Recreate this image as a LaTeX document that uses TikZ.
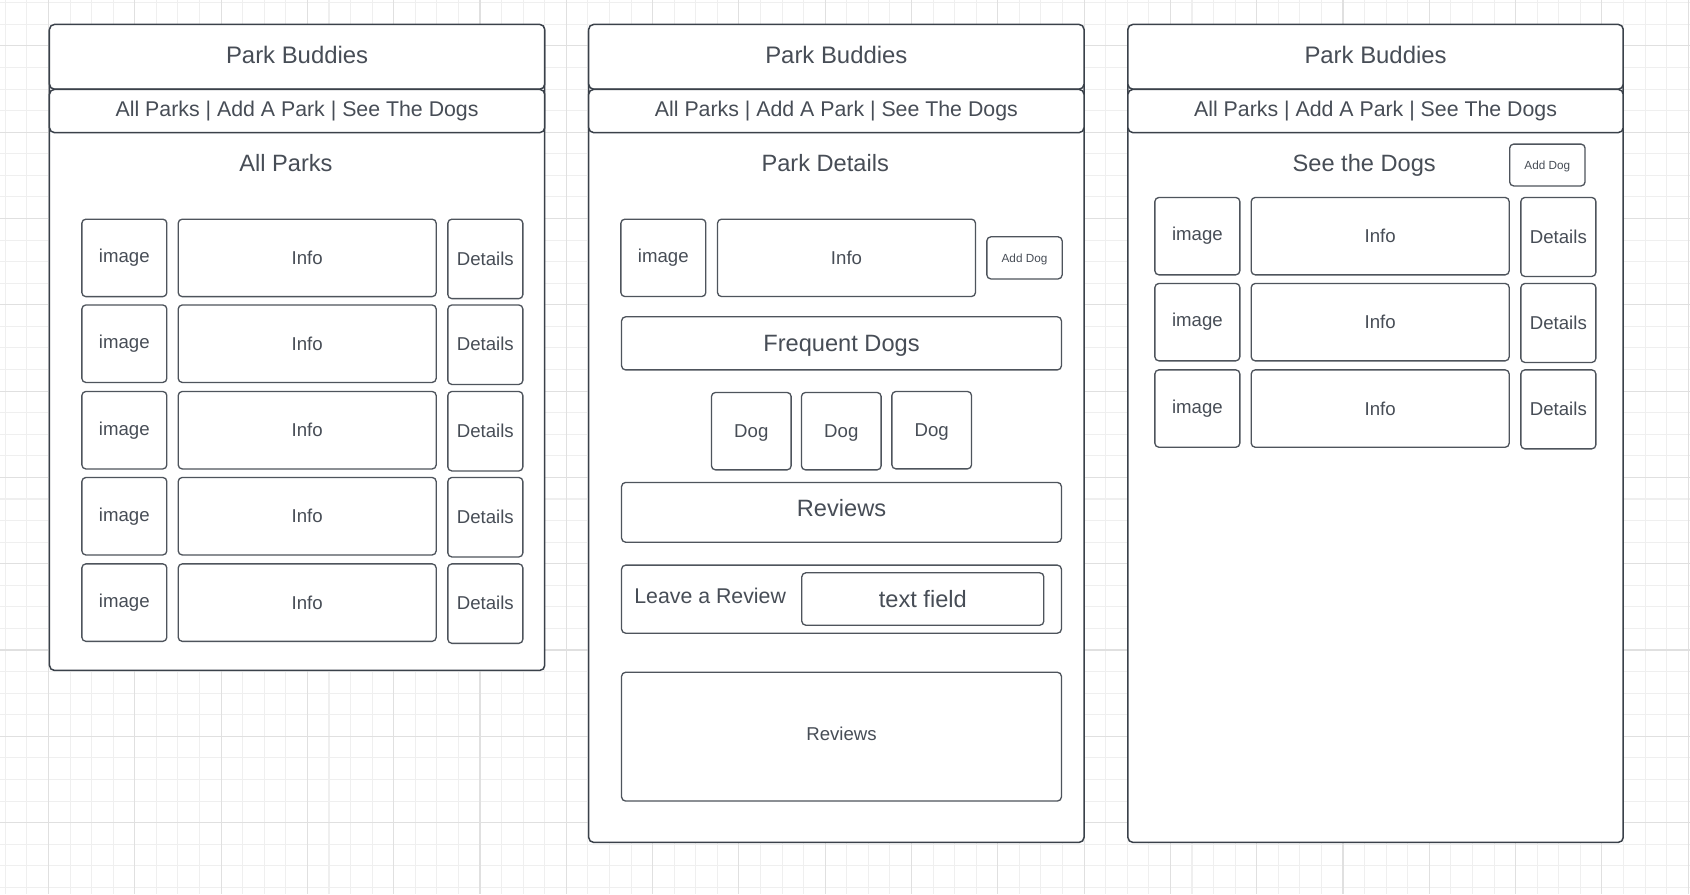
\documentclass[tikz,border=0pt]{standalone}
\usepackage{fontspec}
\setmainfont{Liberation Sans}
\definecolor{ink}{HTML}{3A414A}
\definecolor{boxink}{HTML}{4E545C}
\definecolor{txt}{HTML}{474D56}
\definecolor{gmin}{HTML}{EFEFEF}
\definecolor{gmaj}{HTML}{E0E0E0}
\tikzset{
  gridminor/.style={draw=gmin, line width=0.6pt},
  gridmajor/.style={draw=gmaj, line width=0.6pt},
  ubox/.style={draw=boxink, fill=white, line width=0.75pt, rounded corners=2.3pt,
    inner sep=0pt, text=txt, font=\fontsize{10.6}{12}\selectfont},
  framebox/.style={ubox, draw=ink, line width=0.85pt, rounded corners=2.8pt},
  bigtxt/.style={font=\fontsize{13.44}{15}\selectfont},
  headtxt/.style={font=\fontsize{13.6}{15}\selectfont},
  navtxt/.style={font=\fontsize{12.13}{14}\selectfont},
  tinytxt/.style={font=\fontsize{6.69}{8}\selectfont},
  lbl/.style={inner sep=0pt, text=txt},
}
% \ub[style]{name}{x1}{y1}{x2}{y2}{text}
\newcommand\ub[7][]{\node[ubox,#1,minimum width={(#5-#3)*0.5669pt},minimum height={(#6-#4)*0.5669pt}] (#2) at ({(#3+#5)/2},{(#4+#6)/2}) {#7};}
\begin{document}
\begin{tikzpicture}[x=0.02cm,y=-0.02cm]
\useasboundingbox (0,0) rectangle (1690,894);
\fill[white] (0,0) rectangle (1690,894);
% grid
\foreach \k in {-2,...,76} \draw[gridminor] ({48.5+21.575*\k},0) -- ++(0,894);
\foreach \k in {-2,...,39} \draw[gridminor] (0,{45.9+21.575*\k}) -- ++(1690,0);
\foreach \k in {0,...,19} \draw[gridmajor] ({48.5+86.3*\k},0) -- ++(0,894);
\foreach \k in {0,...,9} \draw[gridmajor] (0,{45.9+86.3*\k}) -- ++(1690,0);

% ---------- Frame 1: All Parks ----------
\ub[framebox]{f1}{48.5}{24.3}{545.7}{671.7}{}
\ub[framebox,headtxt,text height=9.9pt,text depth=2.5pt]{f1head}{48.5}{24.3}{545.7}{89.3}{Park Buddies}
\ub[framebox,navtxt]{f1nav}{48.5}{89.3}{545.7}{132.7}{All Parks | Add A Park | See The Dogs}
\node[lbl,bigtxt,anchor=base] (f1title) at (286,171.5) {All Parks};
\foreach \r/\t in {1/219,2/304.8,3/391.3,4/477.3,5/563.7}{
  \ub{f1img\r}{81.7}{\t}{167}{\t+77.8}{image}
  \ub{f1info\r}{177.7}{\t}{436.7}{\t+77.8}{Info}
  \ub[text depth=0.6pt]{f1det\r}{447.7}{\t+1}{523}{\t+78.8}{Details}
}

% ---------- Frame 2: Park Details ----------
\ub[framebox]{f2}{587.7}{24.3}{1085}{844}{}
\ub[framebox,headtxt,text height=9.9pt,text depth=2.5pt]{f2head}{587.7}{24.3}{1085}{89.3}{Park Buddies}
\ub[framebox,navtxt]{f2nav}{587.7}{89.3}{1085}{132.7}{All Parks | Add A Park | See The Dogs}
\node[lbl,bigtxt,anchor=base] (f2title) at (825.2,171.5) {Park Details};
\ub{f2img}{620.7}{219}{706}{296.7}{image}
\ub{f2info}{717}{219}{976}{296.7}{Info}
\ub[tinytxt,text depth=0pt]{f2add}{986.7}{236.7}{1062.3}{279}{Add Dog}
\ub[bigtxt,text depth=0pt]{f2freq}{620.7}{316.7}{1062.3}{370}{Frequent Dogs}
\ub[text depth=0pt]{f2dog1}{711.3}{392.3}{791.3}{470}{Dog}
\ub[text depth=0pt]{f2dog2}{801.3}{392.3}{881.3}{470}{Dog}
\ub[text depth=0pt]{f2dog3}{891.7}{391.3}{971.7}{469}{Dog}
\ub[bigtxt,text depth=4.6pt]{f2rev}{620.7}{482.3}{1062.3}{542.3}{Reviews}
\ub{f2leave}{620.7}{565}{1062.3}{633.3}{}
\node[lbl,navtxt,anchor=base west] (f2leavelbl) at (634,603.3) {Leave a Review};
\ub[bigtxt]{f2field}{801.3}{572.7}{1044.3}{625.3}{text field}
\ub[text depth=3.8pt]{f2revlist}{620.7}{672}{1062.3}{801.3}{Reviews}

% ---------- Frame 3: See the Dogs ----------
\ub[framebox]{f3}{1126.9}{24.3}{1624.2}{844}{}
\ub[framebox,headtxt,text height=9.9pt,text depth=2.5pt]{f3head}{1126.9}{24.3}{1624.2}{89.3}{Park Buddies}
\ub[framebox,navtxt]{f3nav}{1126.9}{89.3}{1624.2}{132.7}{All Parks | Add A Park | See The Dogs}
\node[lbl,bigtxt,anchor=base] (f3title) at (1364.2,171.7) {See the Dogs};
\ub[tinytxt,text depth=0pt]{f3add}{1509.5}{144}{1585.2}{186}{Add Dog}
\foreach \r/\t in {1/197.3,2/283.3,3/369.7}{
  \ub{f3img\r}{1154.7}{\t}{1240}{\t+77.7}{image}
  \ub{f3info\r}{1250.7}{\t}{1509.7}{\t+77.7}{Info}
  \ub[text depth=0.6pt]{f3det\r}{1520.7}{\t+0.8}{1596}{\t+78.5}{Details}
}
\end{tikzpicture}
\end{document}
